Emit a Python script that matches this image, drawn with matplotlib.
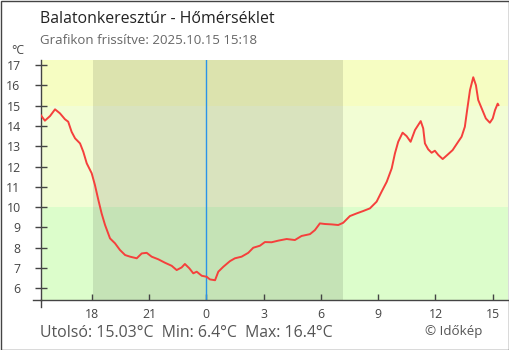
import matplotlib
matplotlib.use("Agg")
import matplotlib.pyplot as plt
from matplotlib.patches import Rectangle
from matplotlib.lines import Line2D

plt.rcParams['font.family'] = ['Open Sans', 'DejaVu Sans']

# Hours relative to midnight of 2025.10.15 and temperature in °C
hours = [-8.67, -8.45, -8.18, -7.92, -7.66, -7.40, -7.23, -7.05, -6.87, -6.61,
         -6.44, -6.26, -6.00, -5.83, -5.65, -5.48, -5.30, -5.04, -4.78, -4.52,
         -4.25, -3.99, -3.64, -3.38, -3.12, -2.86, -2.51, -2.16, -1.81, -1.55,
         -1.29, -1.12, -0.89, -0.68, -0.50, -0.24, 0.02, 0.19, 0.46, 0.63,
         0.89, 1.24, 1.50, 1.85, 2.20, 2.46, 2.81, 3.07, 3.42, 3.77,
         4.21, 4.64, 4.99, 5.43, 5.69, 5.95, 6.21, 6.57, 6.91, 7.17,
         7.52, 7.87, 8.22, 8.57, 8.92, 9.18, 9.45, 9.71, 9.88, 10.05,
         10.28, 10.49, 10.70, 10.93, 11.23, 11.36, 11.45, 11.62, 11.80, 11.97,
         12.15, 12.38, 12.62, 12.90, 13.19, 13.37, 13.54, 13.66, 13.81, 13.98,
         14.12, 14.24, 14.42, 14.64, 14.85, 15.00, 15.12, 15.26, 15.30]
temps = [14.54, 14.26, 14.49, 14.82, 14.62, 14.33, 14.21, 13.71, 13.39, 13.14,
         12.73, 12.16, 11.67, 11.09, 10.35, 9.69, 9.12, 8.46, 8.22, 7.89,
         7.64, 7.56, 7.48, 7.72, 7.75, 7.56, 7.43, 7.26, 7.11, 6.90,
         7.03, 7.20, 6.99, 6.74, 6.82, 6.62, 6.57, 6.44, 6.40, 6.82,
         7.06, 7.34, 7.48, 7.56, 7.75, 8.00, 8.10, 8.28, 8.27, 8.35,
         8.43, 8.38, 8.58, 8.67, 8.87, 9.20, 9.17, 9.15, 9.12, 9.23,
         9.56, 9.69, 9.81, 9.94, 10.27, 10.76, 11.25, 11.91, 12.65, 13.22,
         13.67, 13.50, 13.22, 13.80, 14.24, 13.88, 13.14, 12.85, 12.68, 12.78,
         12.57, 12.37, 12.57, 12.81, 13.22, 13.47, 13.96, 14.78, 15.77, 16.40,
         16.01, 15.28, 14.87, 14.37, 14.16, 14.37, 14.78, 15.10, 15.03]

xtick_pos = [-6, -3, 0, 3, 6, 9, 12, 15]
xtick_labels = ["18", "21", "0", "3", "6", "9", "12", "15"]
ytick_vals = list(range(6, 18))

night_start, night_end = -5.93, 7.16
band_edges = [5.45, 10, 15, 17.25]
band_colors = ["#dcfdcb", "#f2fdd4", "#f6fdc2"]

W, H = 510, 350
fig = plt.figure(figsize=(W / 100, H / 100), dpi=100)
fig.patch.set_facecolor("white")

ax_l, ax_r, ax_b, ax_t = 40.7, 508, 299.5, 60
ax = fig.add_axes([ax_l / W, 1 - ax_b / H, (ax_r - ax_l) / W, (ax_b - ax_t) / H])
xmin, xmax = -8.67, 15.80
ymin, ymax = band_edges[0], band_edges[-1]
ax.set_xlim(xmin, xmax)
ax.set_ylim(ymin, ymax)

# temperature bands
for lo, hi, c in zip(band_edges[:-1], band_edges[1:], band_colors):
    ax.axhspan(lo, hi, color=c, lw=0, zorder=0)
# night shading
ax.axvspan(night_start, night_end, color="black", alpha=0.1, lw=0, zorder=1)
# midnight marker
ax.axvline(0, color="#2a93e8", lw=1, zorder=2)

ax.plot(hours, temps, color="#f5403c", lw=1.4, zorder=3)

for s in ["top", "right"]:
    ax.spines[s].set_visible(False)
for s in ["left", "bottom"]:
    ax.spines[s].set_color("#444444")
    ax.spines[s].set_linewidth(1)

ax.set_xticks(xtick_pos)
ax.set_xticklabels(xtick_labels)
ax.set_yticks(ytick_vals)
ax.tick_params(axis="x", direction="in", length=4.5, width=1, color="#444444",
               labelsize=8.8, labelcolor="#444444", pad=6)
ax.tick_params(axis="y", direction="inout", length=9, width=1, color="#444444",
               labelsize=8.8, labelcolor="#444444", pad=10)

# corner extensions of the axis lines
fig.add_artist(Line2D([33 / W, ax_l / W], [1 - ax_b / H, 1 - ax_b / H], color="#444444", lw=1))
fig.add_artist(Line2D([ax_l / W, ax_l / W], [1 - ax_b / H, 1 - 307 / H], color="#444444", lw=1))

fig.text(40 / W, 1 - 19 / H, "Balatonkeresztúr - Hőmérséklet", fontsize=11.4,
         color="#222222", va="center", ha="left")
fig.text(40 / W, 1 - 41 / H, "Grafikon frissítve: 2025.10.15 15:18", fontsize=9.5,
         color="#666666", va="center", ha="left")
fig.text(18 / W, 1 - 50 / H, "°C", fontsize=8.8, color="#444444", va="center", ha="center")
fig.text(40.5 / W, 1 - 333 / H, "Utolsó: 15.03°C  Min: 6.4°C  Max: 16.4°C", fontsize=11.4,
         color="#555555", va="center", ha="left")
fig.text(453.5 / W, 1 - 332 / H, "© Időkép", fontsize=9.6, color="#555555", va="center", ha="center")

# outer frame
fig.add_artist(Rectangle((0.5 / W, 0.5 / H), (W - 1) / W, (H - 1) / H, transform=fig.transFigure,
                         fill=False, edgecolor="#444444", lw=1))

fig.savefig("out.png", dpi=100)
